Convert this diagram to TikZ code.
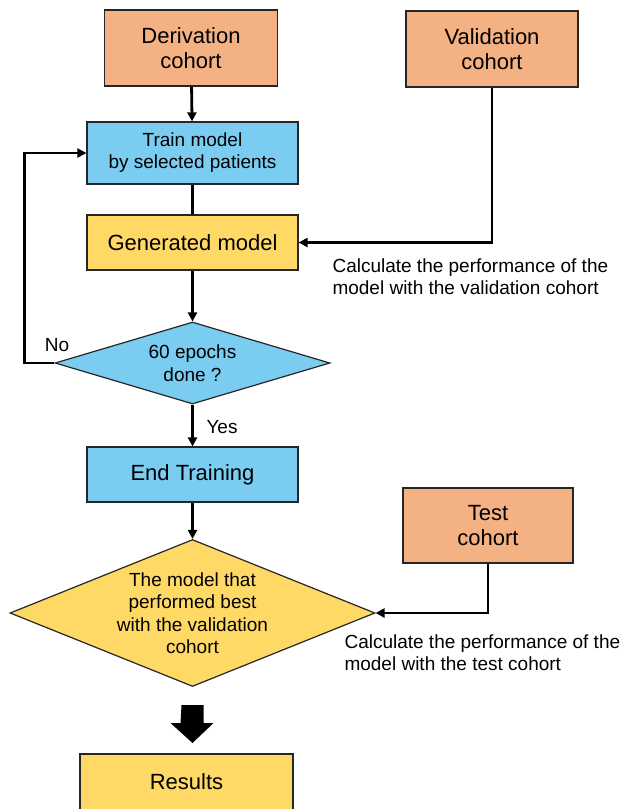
\documentclass[tikz,border=0pt]{standalone}
\usepackage{fontspec}
\setmainfont{Liberation Sans}
\usetikzlibrary{arrows.meta,shapes.geometric}

\definecolor{cohortorange}{HTML}{F4B183}
\definecolor{trainblue}{HTML}{7ACDF0}
\definecolor{modelyellow}{HTML}{FFD966}

\begin{document}
\begin{tikzpicture}[x=1pt,y=-1pt,>={Triangle[length=9pt,width=9pt]},
	box/.style={draw=black!85,line width=1.2pt,inner sep=0pt,align=center,font=\fontsize{22}{25}\selectfont},
	cohort node/.style={box,fill=cohortorange},
	step node/.style={box,fill=trainblue,minimum width=211pt},
	model node/.style={box,fill=modelyellow},
	choice node/.style={box,diamond,inner sep=-6pt,aspect=2.5,font=\fontsize{19}{22.5}\selectfont},
	flow/.style={->,line width=2.8pt},
	note/.style={font=\fontsize{19}{22}\selectfont,align=left,anchor=north west}]

	\useasboundingbox (0,0) rectangle (622,809);

	%cohorts
	\node[cohort node,minimum width=173pt,minimum height=76pt] (deriv) at (191,48) {Derivation\\cohort};
	\node[cohort node,minimum width=172pt,minimum height=76pt] (valid) at (492,49) {Validation\\cohort};
	\node[cohort node,minimum width=170pt,minimum height=75pt] (test) at (488,525.5) {Test\\cohort};

	%training loop
	\node[step node,minimum height=62pt,font=\fontsize{19}{22}\selectfont] (train) at (192.5,153) {Train model\\by selected patients};
	\node[model node,minimum width=211pt,minimum height=55pt] (gen) at (192.5,242.5) {Generated model};
	\node[choice node,fill=trainblue,minimum width=275pt,minimum height=82pt] (epochs) at (192.5,363) {60 epochs\\done ?};
	\node[step node,minimum height=55pt] (end) at (192.5,474.5) {End Training};

	%selection and results
	\node[choice node,fill=modelyellow,minimum width=365pt,minimum height=147pt] (best) at (192.5,613)
		{The model that\\performed best\\with the validation\\cohort};
	\node[model node,minimum width=213pt,minimum height=56pt] (results) at (186.5,782) {Results};

	%connectors
	\draw[flow] (deriv) -- (train);
	\draw[line width=2.8pt] (train) -- (gen);
	\draw[flow] (gen) -- (epochs);
	\draw[flow] (epochs.west) -- ++(-30,0) |- (train.west);
	\draw[flow] (epochs) -- (end);
	\draw[flow] (end) -- (best);
	\draw[flow] (valid.south) |- (gen.east);
	\draw[flow] (test.south) |- (best.east);

	%labels
	\node[font=\fontsize{19}{22}\selectfont] (no) at (57,345) {No};
	\node[font=\fontsize{19}{22}\selectfont] (yes) at (222,427) {Yes};
	\node[note] (validnote) at (329,255) {Calculate the performance of the\\model with the validation cohort};
	\node[note] (testnote) at (341,631) {Calculate the performance of the\\model with the test cohort};

	%block arrow to results
	\coordinate (tip) at (192.5,743);
	\fill (tip) ++(-11,-38) -- ++(22,0) -- ++(0,18) -- ++(10,0) -- (tip) -- ++(-22,-20) -- ++(10,0) -- cycle;

\end{tikzpicture}
\end{document}
